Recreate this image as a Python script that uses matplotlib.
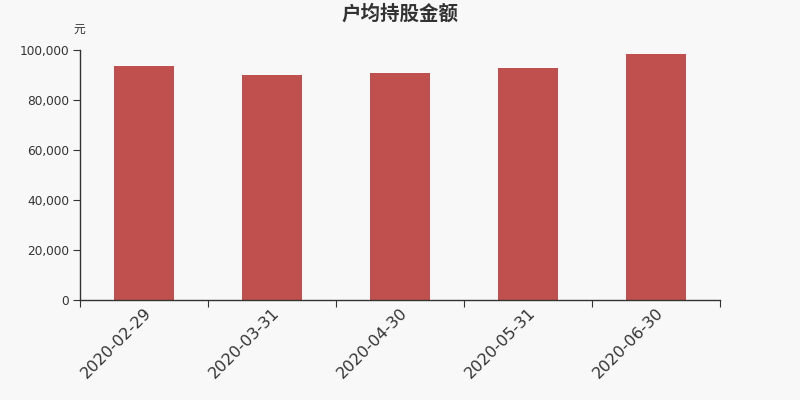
import matplotlib
matplotlib.use("Agg")
import matplotlib.pyplot as plt

plt.rcParams['font.family'] = ['Noto Sans CJK SC', 'DejaVu Sans']

categories = ["2020-02-29", "2020-03-31", "2020-04-30", "2020-05-31", "2020-06-30"]
values = [93500, 90000, 90900, 92900, 98400]
yticks = [0, 20000, 40000, 60000, 80000, 100000]
title = "户均持股金额"
unit = "元"

bg = "#f8f8f8"
txt = "#333333"
fig = plt.figure(figsize=(8, 4), dpi=100, facecolor=bg)
ax = fig.add_axes([0.1, 0.25, 0.8, 0.625], facecolor=bg)

x = list(range(len(categories)))
ax.bar(x, values, width=0.47, color="#c0504d", zorder=2)
ax.set_xlim(-0.5, len(categories) - 0.5)
ax.set_ylim(0, 100000)
ax.set_yticks(yticks)
ax.set_yticklabels([f"{v:,}" for v in yticks], fontsize=8.7, color=txt,
                   family="DejaVu Sans")
ax.set_xticks([i - 0.5 for i in range(len(categories) + 1)])
ax.set_xticklabels([""] * (len(categories) + 1))
ax.set_xticks(x, minor=True)
ax.set_xticklabels(categories, minor=True, rotation=45, ha="right", va="top",
                   rotation_mode="anchor", fontsize=11.5, color=txt,
                   family="DejaVu Sans")
ax.tick_params(axis="x", which="minor", length=0, pad=4)
ax.tick_params(axis="x", which="major", length=5, color=txt)
ax.tick_params(axis="y", length=5, color=txt, pad=3)
for s in ["top", "right"]:
    ax.spines[s].set_visible(False)
for s in ["left", "bottom"]:
    ax.spines[s].set_color(txt)
    ax.spines[s].set_linewidth(1)

fig.text(0.5, 0.965, title, ha="center", va="center", fontsize=14,
         fontweight="bold", color=txt)
fig.text(0.099, 0.926, unit, ha="center", va="center", fontsize=8.5, color=txt)

fig.savefig("out.png", dpi=100, facecolor=bg)
